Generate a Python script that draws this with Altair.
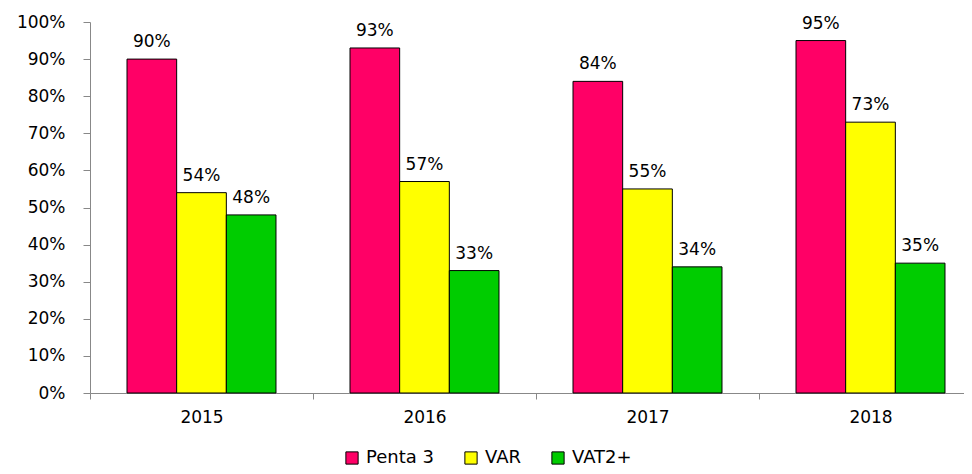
import altair as alt
import pandas as pd

years = ["2015", "2016", "2017", "2018"]
series = ["Penta 3", "VAR", "VAT2+"]
penta3 = [0.90, 0.93, 0.84, 0.95]
var = [0.54, 0.57, 0.55, 0.73]
vat2 = [0.48, 0.33, 0.34, 0.35]
colors = ["#FF0066", "#FFFF00", "#00CC00"]
y_ticks = [0.0, 0.1, 0.2, 0.3, 0.4, 0.5, 0.6, 0.7, 0.8, 0.9, 1.0]

rows = []
for i, y in enumerate(years):
    for s, vals in zip(series, [penta3, var, vat2]):
        rows.append({"year": y, "series": s, "value": vals[i]})
df = pd.DataFrame(rows)

FONT = "DejaVu Sans"

x = alt.X("year:N", title=None, sort=years,
          scale=alt.Scale(paddingInner=0, paddingOuter=0, range=[0, 892]),
          axis=alt.Axis(labelAngle=0, labelFontSize=17, labelFont=FONT, labelColor="#000",
                        domainColor="#888", tickColor="#888", tickBand="extent",
                        tickSize=6, labelPadding=10))
xo = alt.XOffset("series:N", sort=series,
                 scale=alt.Scale(paddingInner=0, paddingOuter=0.745))
y = alt.Y("value:Q", title=None,
          scale=alt.Scale(domain=[0, 1], nice=False),
          axis=alt.Axis(format="%", values=y_ticks, grid=False, labelOverlap=False,
                        labelFontSize=17, labelFont=FONT, labelColor="#000",
                        domainColor="#888", tickColor="#888", tickSize=7, labelPadding=18))

bars = alt.Chart(df).mark_bar(stroke="black", strokeWidth=1).encode(
    x=x, xOffset=xo, y=y,
    color=alt.Color("series:N", sort=series,
                    scale=alt.Scale(domain=series, range=colors),
                    legend=alt.Legend(title=None, orient="none", direction="horizontal",
                                      legendX=253, legendY=427, symbolType="square",
                                      symbolSize=150, symbolStrokeColor="black",
                                      symbolStrokeWidth=1, labelFontSize=18, labelFont=FONT,
                                      labelColor="#000", columnPadding=28, labelOffset=5)),
)

labels = alt.Chart(df).mark_text(baseline="bottom", dy=-8, fontSize=17, font=FONT,
                                 color="#000").encode(
    x=x, xOffset=xo, y=y,
    text=alt.Text("value:Q", format=".0%"),
)

chart = (bars + labels).properties(
    width=872, height=371,
    autosize=alt.AutoSizeParams(type="none"),
    padding={"left": 82, "top": 14, "right": 2, "bottom": 73},
).configure_view(stroke=None)

chart.save("out.html", embed_options={"renderer": "svg", "actions": False})
